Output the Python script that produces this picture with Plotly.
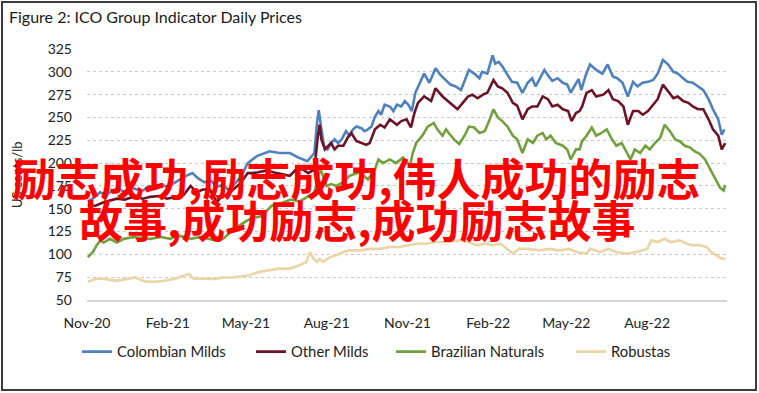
import plotly.graph_objects as go

# ---------------- data ----------------
tick_dates = ["2020-11-01", "2021-02-01", "2021-05-01", "2021-08-01",
              "2021-11-01", "2022-02-01", "2022-05-01", "2022-08-01"]
tick_labels = ["Nov-20", "Feb-21", "May-21", "Aug-21", "Nov-21", "Feb-22", "May-22", "Aug-22"]
y_ticks = [50, 75, 100, 125, 150, 175, 200, 225, 250, 275, 300, 325]

colombian_dates = [
    "2020-11-02", "2020-11-09", "2020-11-16", "2020-11-23", "2020-11-30", "2020-12-07", "2020-12-14",
    "2020-12-21", "2020-12-28", "2021-01-04", "2021-01-11", "2021-01-18", "2021-01-25", "2021-02-01",
    "2021-02-08", "2021-02-15", "2021-02-22", "2021-03-01", "2021-03-08", "2021-03-15", "2021-03-22",
    "2021-03-29", "2021-04-05", "2021-04-12", "2021-04-19", "2021-04-26", "2021-05-03", "2021-05-14",
    "2021-05-28", "2021-06-08", "2021-06-20", "2021-06-30", "2021-07-10", "2021-07-14", "2021-07-18",
    "2021-07-21", "2021-07-23", "2021-07-26", "2021-07-29", "2021-08-02", "2021-08-06", "2021-08-10",
    "2021-08-14", "2021-08-18", "2021-08-23", "2021-08-27", "2021-08-31", "2021-09-04", "2021-09-10",
    "2021-09-13", "2021-09-17", "2021-09-21", "2021-09-25", "2021-09-29", "2021-10-02", "2021-10-06",
    "2021-10-12", "2021-10-16", "2021-10-20", "2021-10-25", "2021-10-29", "2021-11-02", "2021-11-06",
    "2021-11-10", "2021-11-14", "2021-11-20", "2021-11-26", "2021-12-03", "2021-12-09", "2021-12-15",
    "2021-12-20", "2021-12-26", "2022-01-01", "2022-01-10", "2022-01-16", "2022-01-22", "2022-01-25",
    "2022-01-31", "2022-02-06", "2022-02-09", "2022-02-13", "2022-02-17", "2022-02-22", "2022-02-28",
    "2022-03-06", "2022-03-12", "2022-03-18", "2022-03-23", "2022-03-27", "2022-04-02", "2022-04-06",
    "2022-04-11", "2022-04-15", "2022-04-21", "2022-04-27", "2022-05-02", "2022-05-06", "2022-05-10",
    "2022-05-15", "2022-05-18", "2022-05-23", "2022-05-28", "2022-06-04", "2022-06-11", "2022-06-17",
    "2022-06-23", "2022-06-28", "2022-07-04", "2022-07-10", "2022-07-16", "2022-07-21", "2022-07-27",
    "2022-08-02", "2022-08-08", "2022-08-13", "2022-08-19", "2022-08-25", "2022-08-31", "2022-09-05",
    "2022-09-11", "2022-09-16", "2022-09-22", "2022-09-28", "2022-10-04", "2022-10-10", "2022-10-15",
    "2022-10-21", "2022-10-25", "2022-10-28"]
colombian_values = [
    158, 162, 168, 165, 170, 172, 168, 173, 171, 170, 175, 172, 176, 174,
    178, 182, 186, 189, 183, 179, 181, 174, 176, 170, 178, 186, 200, 208,
    213, 211, 211, 206, 202, 207, 211, 244, 258, 237, 219, 215, 222, 226,
    222, 226, 235, 230, 237, 240, 238, 235, 237, 240, 251, 257, 253, 264,
    262, 257, 264, 262, 268, 264, 257, 277, 286, 298, 288, 304, 296, 291,
    286, 284, 280, 302, 298, 293, 300, 298, 318, 309, 311, 306, 298, 289,
    288, 277, 288, 293, 284, 295, 302, 295, 290, 293, 288, 286, 277, 284,
    292, 280, 296, 308, 302, 298, 308, 295, 293, 288, 273, 289, 284, 288,
    289, 291, 298, 313, 308, 300, 298, 293, 289, 288, 284, 280, 270, 259,
    248, 231, 237]

other_dates = [
    "2020-11-02", "2020-11-10", "2020-11-20", "2020-11-27", "2020-12-05", "2020-12-14", "2020-12-24",
    "2021-01-04", "2021-01-12", "2021-01-22", "2021-01-31", "2021-02-10", "2021-02-19", "2021-02-27",
    "2021-03-06", "2021-03-13", "2021-03-21", "2021-03-29", "2021-04-01", "2021-04-13", "2021-04-25",
    "2021-05-03", "2021-05-08", "2021-05-15", "2021-05-25", "2021-06-05", "2021-06-20", "2021-06-27",
    "2021-07-05", "2021-07-11", "2021-07-18", "2021-07-22", "2021-07-24", "2021-07-26", "2021-07-30",
    "2021-08-03", "2021-08-06", "2021-08-10", "2021-08-14", "2021-08-20", "2021-08-25", "2021-08-29",
    "2021-09-04", "2021-09-10", "2021-09-15", "2021-09-19", "2021-09-25", "2021-10-01", "2021-10-06",
    "2021-10-12", "2021-10-20", "2021-10-25", "2021-10-31", "2021-11-05", "2021-11-09", "2021-11-13",
    "2021-11-20", "2021-11-28", "2021-12-03", "2021-12-11", "2021-12-17", "2021-12-23", "2021-12-28",
    "2022-01-03", "2022-01-09", "2022-01-14", "2022-01-20", "2022-01-26", "2022-01-31", "2022-02-07",
    "2022-02-12", "2022-02-17", "2022-02-23", "2022-03-01", "2022-03-06", "2022-03-12", "2022-03-18",
    "2022-03-23", "2022-03-29", "2022-04-04", "2022-04-10", "2022-04-15", "2022-04-21", "2022-04-27",
    "2022-05-03", "2022-05-07", "2022-05-12", "2022-05-16", "2022-05-19", "2022-05-24", "2022-05-30",
    "2022-06-04", "2022-06-12", "2022-06-18", "2022-06-23", "2022-06-29", "2022-07-05", "2022-07-10",
    "2022-07-16", "2022-07-22", "2022-07-27", "2022-08-02", "2022-08-08", "2022-08-13", "2022-08-19",
    "2022-08-25", "2022-08-31", "2022-09-05", "2022-09-11", "2022-09-17", "2022-09-22", "2022-09-28",
    "2022-10-04", "2022-10-10", "2022-10-15", "2022-10-21", "2022-10-25", "2022-10-29"]
other_values = [
    155, 153, 157, 159, 161, 160, 163, 161, 163, 164, 161, 163, 165, 175,
    168, 171, 171, 157, 161, 168, 178, 189, 189, 190, 192, 189, 186, 193,
    193, 189, 193, 230, 242, 226, 215, 219, 222, 215, 219, 219, 228, 233,
    224, 222, 220, 222, 237, 242, 239, 248, 242, 246, 248, 239, 255, 266,
    273, 268, 282, 273, 268, 264, 259, 266, 273, 275, 271, 275, 277, 291,
    284, 282, 277, 266, 263, 248, 259, 262, 262, 273, 270, 262, 264, 259,
    257, 246, 255, 257, 262, 277, 280, 273, 275, 280, 270, 268, 262, 242,
    257, 257, 253, 257, 264, 270, 286, 279, 271, 273, 268, 266, 262, 259,
    259, 248, 237, 230, 215, 222]

brazilian_dates = [
    "2020-11-02", "2020-11-08", "2020-11-12", "2020-11-16", "2020-11-20", "2020-11-27", "2020-12-05",
    "2020-12-13", "2020-12-24", "2021-01-04", "2021-01-12", "2021-01-24", "2021-02-04", "2021-02-12",
    "2021-02-20", "2021-02-27", "2021-03-10", "2021-03-20", "2021-03-29", "2021-04-05", "2021-04-13",
    "2021-04-24", "2021-05-06", "2021-05-19", "2021-05-30", "2021-06-10", "2021-06-21", "2021-07-01",
    "2021-07-13", "2021-07-18", "2021-07-22", "2021-07-25", "2021-08-01", "2021-08-06", "2021-08-12",
    "2021-08-20", "2021-08-27", "2021-09-08", "2021-09-17", "2021-09-25", "2021-09-29", "2021-10-04",
    "2021-10-12", "2021-10-19", "2021-10-27", "2021-11-04", "2021-11-07", "2021-11-11", "2021-11-18",
    "2021-11-24", "2021-12-01", "2021-12-05", "2021-12-11", "2021-12-15", "2021-12-18", "2021-12-24",
    "2021-12-30", "2022-01-05", "2022-01-10", "2022-01-16", "2022-01-22", "2022-01-28", "2022-02-02",
    "2022-02-07", "2022-02-12", "2022-02-17", "2022-02-23", "2022-03-01", "2022-03-06", "2022-03-12",
    "2022-03-18", "2022-03-24", "2022-03-29", "2022-04-04", "2022-04-08", "2022-04-13", "2022-04-19",
    "2022-04-27", "2022-05-02", "2022-05-06", "2022-05-12", "2022-05-16", "2022-05-19", "2022-05-24",
    "2022-05-30", "2022-06-04", "2022-06-10", "2022-06-16", "2022-06-22", "2022-06-27", "2022-07-03",
    "2022-07-09", "2022-07-13", "2022-07-18", "2022-07-24", "2022-07-30", "2022-08-04", "2022-08-10",
    "2022-08-16", "2022-08-21", "2022-08-27", "2022-09-02", "2022-09-07", "2022-09-13", "2022-09-19",
    "2022-09-24", "2022-09-30", "2022-10-06", "2022-10-12", "2022-10-17", "2022-10-23", "2022-10-27",
    "2022-10-29"]
brazilian_values = [
    97, 103, 110, 115, 113, 117, 113, 117, 119, 118, 117, 119, 117, 121,
    119, 117, 119, 117, 115, 117, 124, 132, 139, 142, 153, 156, 160, 158,
    164, 167, 185, 193, 175, 177, 175, 179, 186, 190, 182, 193, 204, 200,
    204, 200, 206, 197, 211, 222, 230, 240, 244, 237, 230, 237, 233, 226,
    221, 230, 240, 239, 233, 235, 246, 259, 250, 246, 240, 230, 226, 211,
    226, 222, 230, 233, 226, 230, 222, 219, 215, 204, 215, 215, 224, 230,
    239, 230, 233, 237, 226, 219, 222, 211, 204, 215, 211, 219, 215, 222,
    228, 242, 235, 226, 224, 219, 217, 213, 210, 204, 193, 184, 173, 170,
    176]

robustas_dates = [
    "2020-11-02", "2020-11-12", "2020-11-23", "2020-12-04", "2020-12-15", "2020-12-26", "2021-01-06",
    "2021-01-17", "2021-01-28", "2021-02-08", "2021-02-19", "2021-02-25", "2021-03-03", "2021-03-14",
    "2021-03-25", "2021-04-05", "2021-04-16", "2021-04-27", "2021-05-05", "2021-05-16", "2021-05-28",
    "2021-06-08", "2021-06-20", "2021-07-01", "2021-07-09", "2021-07-13", "2021-07-17", "2021-07-21",
    "2021-07-24", "2021-07-28", "2021-08-05", "2021-08-12", "2021-08-20", "2021-08-27", "2021-09-08",
    "2021-09-19", "2021-10-01", "2021-10-12", "2021-10-23", "2021-11-04", "2021-11-11", "2021-11-22",
    "2021-12-03", "2021-12-18", "2021-12-30", "2022-01-10", "2022-01-18", "2022-01-29", "2022-02-06",
    "2022-02-15", "2022-02-23", "2022-03-01", "2022-03-08", "2022-03-19", "2022-03-31", "2022-04-12",
    "2022-04-23", "2022-05-04", "2022-05-12", "2022-05-24", "2022-05-28", "2022-06-08", "2022-06-18",
    "2022-06-27", "2022-07-09", "2022-07-20", "2022-08-01", "2022-08-06", "2022-08-13", "2022-08-21",
    "2022-08-28", "2022-09-07", "2022-09-15", "2022-09-22", "2022-09-30", "2022-10-08", "2022-10-13",
    "2022-10-19", "2022-10-25", "2022-10-29"]
robustas_values = [
    70, 73.6, 72.9, 71, 72.9, 74.7, 70.4, 70, 71, 73, 76.6, 78.4, 73, 73.6,
    72.9, 74.7, 74.7, 76.6, 77.2, 80.8, 82.6, 84.4, 84.4, 88, 91.7, 102.6, 95.3, 91.7,
    95, 91.7, 97, 99, 102.6, 104.4, 104.4, 106, 106, 108, 108, 110, 111.7, 111.7,
    113.5, 113.5, 115.3, 113.5, 110, 111.7, 110, 111.7, 106, 100.8, 106, 106, 104.4, 106,
    104.4, 106, 102.6, 100.8, 106, 102.6, 106, 102.6, 100.8, 102.6, 106, 115.3, 113.5, 117.1,
    113.5, 115.3, 111.7, 110, 110, 108, 102.6, 99, 95.3, 95.3]

series_names = ["Colombian Milds", "Other Milds", "Brazilian Naturals", "Robustas"]
series_colors = ["#4F81BD", "#6E1228", "#73A03E", "#EAD5A6"]

title_text = "Figure 2: ICO Group Indicator Daily Prices"
y_title = "US cents/lb"
overlay_line1 = "励志成功,励志成功,伟人成功的励志"
overlay_line2 = "故事,成功励志,成功励志故事"

# ---------------- figure ----------------
W, H = 759, 393
L, R, T, B = 87, 32, 49, 93
pw, ph = W - L - R, H - T - B


def px_x(p):
    return (p - L) / pw


def px_y(p):
    return (H - B - p) / ph


FONT = "Lato, 'Open Sans', sans-serif"
legend_ids = ["legend", "legend2", "legend3", "legend4"]
legend_starts = [83, 257, 397, 577]   # pixel x of each legend entry's line

fig = go.Figure()
for name, xs, ys, col, lid in zip(series_names,
                                  [colombian_dates, other_dates, brazilian_dates, robustas_dates],
                                  [colombian_values, other_values, brazilian_values, robustas_values],
                                  series_colors, legend_ids):
    fig.add_trace(go.Scatter(x=xs, y=ys, name=name, mode="lines", legend=lid,
                             line=dict(color=col, width=2.6)))

legend_common = dict(orientation="h", xref="container", yref="container",
                     y=1 - 352 / H, xanchor="left", yanchor="middle",
                     font=dict(size=14.8, color="#222222"), itemwidth=30,
                     bgcolor="rgba(0,0,0,0)", borderwidth=0)
legend_layout = {lid: dict(legend_common, x=(xs - 6) / W) for lid, xs in zip(legend_ids, legend_starts)}

fig.update_layout(
    width=W, height=H,
    margin=dict(l=L, r=R, t=T, b=B, autoexpand=False),
    paper_bgcolor="white", plot_bgcolor="white",
    font=dict(family=FONT, size=14, color="#222222"),
    showlegend=True,
    xaxis=dict(type="date", range=["2020-11-01", "2022-10-31"],
               tickvals=tick_dates, ticktext=tick_labels,
               showgrid=False, zeroline=False, automargin=False,
               showline=True, linecolor="#d4d4d4", linewidth=1.5,
               ticks="", ticklabelstandoff=9,
               tickfont=dict(size=14, color="#222222")),
    yaxis=dict(range=[50, 325], tickvals=y_ticks, automargin=False,
               showgrid=True, gridcolor="#c9c9c9", gridwidth=1.3, griddash="dot",
               zeroline=False, showline=False, ticks="", ticklabelstandoff=14,
               tickfont=dict(size=14, color="#222222")),
    **legend_layout,
)

# outer frame
fig.add_shape(type="rect", xref="paper", yref="paper",
              x0=px_x(2), x1=px_x(756), y0=px_y(390), y1=px_y(2),
              line=dict(color="#3c3c3c", width=2), fillcolor="rgba(0,0,0,0)", layer="above")

# title
fig.add_annotation(text=title_text, xref="paper", yref="paper",
                   x=px_x(7), y=px_y(17), xanchor="left", yanchor="middle",
                   showarrow=False, font=dict(family=FONT, size=16, color="#1a1a1a"))

# y axis title
fig.add_annotation(text=y_title, xref="paper", yref="paper",
                   x=px_x(17), y=px_y(175), xanchor="center", yanchor="middle",
                   textangle=-90, showarrow=False,
                   font=dict(family=FONT, size=13, color="#222222"))

# red overlay text
CJK = "'Noto Sans CJK SC', 'Noto Sans CJK JP', sans-serif"
fig.add_annotation(text=overlay_line1, xref="paper", yref="paper",
                   x=px_x(356), y=px_y(176.5), xanchor="center", yanchor="middle",
                   showarrow=False,
                   font=dict(family=CJK, size=44, color="#FF0000", weight="bold"))
fig.add_annotation(text=overlay_line2, xref="paper", yref="paper",
                   x=px_x(357), y=px_y(218.5), xanchor="center", yanchor="middle",
                   showarrow=False,
                   font=dict(family=CJK, size=44, color="#FF0000", weight="bold"))

fig.write_html("out.html", config={"responsive": False, "displayModeBar": False},
               post_script="document.body.style.margin='0';document.body.style.overflow='hidden';")
